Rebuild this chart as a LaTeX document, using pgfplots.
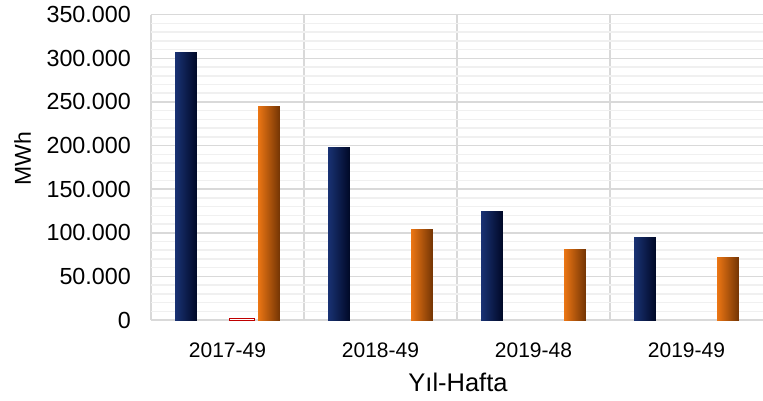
\documentclass[border=0pt]{standalone}
\usepackage{pgfplots}
\pgfplotsset{compat=1.18}
\usepackage{fontspec}
\setmainfont{Liberation Sans}
\definecolor{navyL}{RGB}{25,50,115}
\definecolor{navyM}{RGB}{4,34,98}
\definecolor{navyD}{RGB}{0,8,38}
\definecolor{oraL}{RGB}{235,118,20}
\definecolor{oraM}{RGB}{246,128,26}
\definecolor{oraD}{RGB}{115,52,4}
\definecolor{gmaj}{RGB}{217,217,217}
\definecolor{gmin}{RGB}{240,240,240}
\begin{document}
\begin{tikzpicture}
\useasboundingbox (-151bp,-81bp) rectangle (612bp,320bp);
\begin{axis}[
  at={(0,0)}, anchor=south west,
  scale only axis, width=612bp, height=305.3bp,
  xmin=-0.5, xmax=3.5, ymin=0, ymax=350000,
  xtick={0,1,2,3},
  xticklabels={2017-49,2018-49,2019-48,2019-49},
  minor xtick={-0.5,0.5,1.5,2.5},
  ytick={0,50000,...,350000},
  minor y tick num=4,
  major tick length=0pt, minor tick length=0pt,
  ymajorgrids, yminorgrids, xminorgrids,
  major grid style={draw=gmaj, line width=1.6bp},
  minor y grid style={draw=gmin, line width=1.5bp},
  minor x grid style={draw=gmaj, line width=1.6bp},
  axis line style={draw=none},
  scaled y ticks=false,
  /pgf/number format/assume math mode=true,
  yticklabel style={font=\fontsize{23.3bp}{28bp}\selectfont, anchor=east, inner sep=0pt, xshift=-20bp,
    /pgf/number format/fixed, /pgf/number format/1000 sep={.}},
  xticklabel style={font=\fontsize{21bp}{25bp}\selectfont, anchor=base, inner sep=0pt, yshift=-37bp},
  clip=false,
  navybar/.style={ybar, bar width=21.7bp, bar shift=-41.5bp, draw=none,
    left color=navyL, middle color=navyM, right color=navyD, forget plot},
  orabar/.style={ybar, bar width=21.7bp, bar shift=41.5bp, draw=none,
    left color=oraL, middle color=oraM, right color=oraD, forget plot},
]
% navy series
\addplot[navybar] coordinates {(0,307000)};
\addplot[navybar] coordinates {(1,198000)};
\addplot[navybar] coordinates {(2,124300)};
\addplot[navybar] coordinates {(3,95000)};
% red series (tiny)
\addplot[ybar, bar width=25bp, bar shift=14bp, draw={rgb,255:red,192;green,0;blue,0}, line width=0.9bp, fill=white]
  coordinates {(0,2300)};
% orange series
\addplot[orabar] coordinates {(0,244400)};
\addplot[orabar] coordinates {(1,103300)};
\addplot[orabar] coordinates {(2,80300)};
\addplot[orabar] coordinates {(3,71100)};
\end{axis}
\node[anchor=base, font=\fontsize{25.5bp}{30bp}\selectfont, inner sep=0pt] at (307bp,-71bp) {Yıl-Hafta};
\node[rotate=90, font=\fontsize{23bp}{28bp}\selectfont, inner sep=0pt] at (-128.5bp,161bp) {MWh};
\end{tikzpicture}
\end{document}
